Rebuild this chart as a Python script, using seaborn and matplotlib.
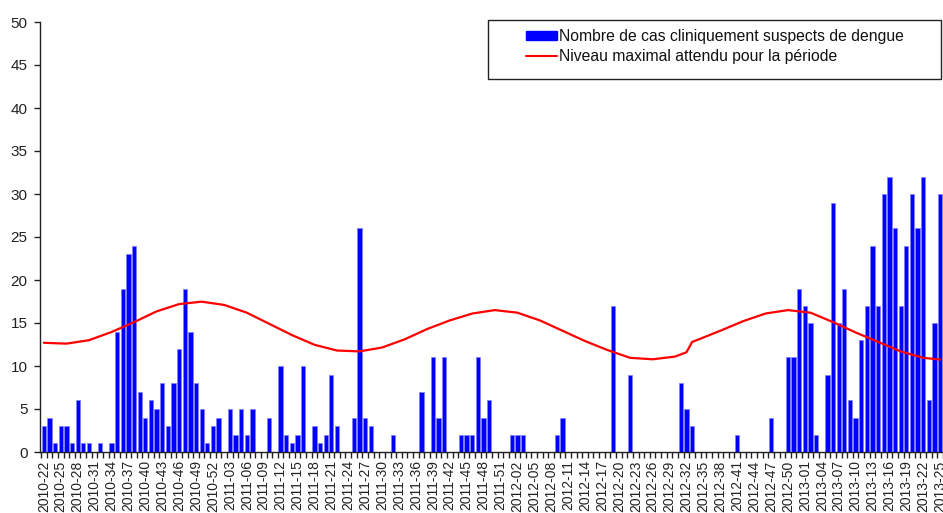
import numpy as np
import pandas as pd
import matplotlib
matplotlib.use("Agg")
import matplotlib.pyplot as plt
from matplotlib.patches import Patch, Rectangle
from matplotlib.lines import Line2D
import seaborn as sns

# ---- categories (ISO weeks 2010-22 .. 2013-25) ----
weeks = ([f"2010-{w:02d}" for w in range(22, 53)] +
         [f"2011-{w:02d}" for w in range(1, 53)] +
         [f"2012-{w:02d}" for w in range(1, 53)] +
         [f"2013-{w:02d}" for w in range(1, 26)])

# ---- weekly number of clinically suspected dengue cases ----
cases_2010 = [3, 4, 1, 3, 3, 1, 6, 1, 1, 0, 1, 0, 1, 14, 19, 23, 24, 7, 4, 6,
              5, 8, 3, 8, 12, 19, 14, 8, 5, 1, 3]
cases_2011 = [4, 0, 5, 2, 5, 2, 5, 0, 0, 4, 0, 10, 2, 1, 2, 10, 0, 3, 1, 2,
              9, 3, 0, 0, 4, 26, 4, 3, 0, 0, 0, 2, 0, 0, 0, 0, 7, 0, 11, 4,
              11, 0, 0, 2, 2, 2, 11, 4, 6, 0, 0, 0]
cases_2012 = [2, 2, 2, 0, 0, 0, 0, 0, 2, 4, 0, 0, 0, 0, 0, 0, 0, 0, 17, 0,
              0, 9, 0, 0, 0, 0, 0, 0, 0, 0, 8, 5, 3, 0, 0, 0, 0, 0, 0, 0,
              2, 0, 0, 0, 0, 0, 4, 0, 0, 11, 11, 19]
cases_2013 = [17, 15, 2, 0, 9, 29, 15, 19, 6, 4, 13, 17, 24, 17, 30, 32, 26,
              17, 24, 30, 26, 32, 6, 15, 30]
cases = cases_2010 + cases_2011 + cases_2012 + cases_2013

# ---- maximum expected level (read at selected weeks) ----
max_weeks = ["2010-22", "2010-26", "2010-30", "2010-34", "2010-38", "2010-42",
             "2010-46", "2010-50", "2011-02", "2011-06", "2011-10", "2011-14",
             "2011-18", "2011-22", "2011-26", "2011-30", "2011-34", "2011-38",
             "2011-42", "2011-46", "2011-50", "2012-02", "2012-06", "2012-10",
             "2012-14", "2012-18", "2012-22", "2012-26", "2012-30", "2012-31",
             "2012-32", "2012-33", "2012-34", "2012-38", "2012-42", "2012-46",
             "2012-50", "2013-02", "2013-06", "2013-10", "2013-14", "2013-18",
             "2013-22", "2013-25"]
max_level = [12.7, 12.6, 13.0, 13.95, 15.1, 16.35, 17.2, 17.48, 17.1, 16.2,
             14.9, 13.6, 12.47, 11.8, 11.7, 12.15, 13.1, 14.3, 15.3, 16.1,
             16.5, 16.2, 15.3, 14.1, 12.9, 11.85, 10.95, 10.78, 11.1, 11.35,
             11.6, 12.8, 13.05, 14.1, 15.2, 16.1, 16.5, 16.2, 15.1, 13.9,
             12.8, 11.7, 10.95, 10.75]

legend_labels = ["Nombre de cas cliniquement suspects de dengue",
                 "Niveau maximal attendu pour la période"]

sns.set_style("white")
plt.rcParams["font.family"] = ["Liberation Sans", "DejaVu Sans"]

W, H = 943, 513
fig = plt.figure(figsize=(W / 100, H / 100), dpi=100)
ax = fig.add_axes([40 / W, 61 / H, 903 / W, 430 / H])

df = pd.DataFrame({"week": weeks, "cases": cases})
sns.barplot(data=df, x="week", y="cases", order=weeks, color="#0000FF",
            saturation=1, width=0.76, errorbar=None, edgecolor="#8080ff",
            linewidth=0.5, ax=ax)

pos = {w: i for i, w in enumerate(weeks)}
line_df = pd.DataFrame({"x": [pos[w] for w in max_weeks], "y": max_level})
sns.lineplot(data=line_df, x="x", y="y", color="#FF0000", linewidth=1.6,
             ax=ax, sort=False)

ax.set_xlim(-0.68, 158.83)
ax.set_ylim(0, 50)
ax.set_xlabel("")
ax.set_ylabel("")

# y axis
ax.set_yticks(np.arange(0, 51, 5))
ax.tick_params(axis="y", which="major", direction="out", length=4, width=1,
               color="#222222", pad=5, labelsize=11, labelcolor="#222222",
               left=True)

# x axis: labels every 3 weeks, tick marks at every category boundary
ax.set_xticks(np.arange(0, len(weeks), 3))
ax.set_xticklabels(weeks[::3], rotation=90)
ax.set_xticks(np.arange(-0.5, len(weeks), 1), minor=True)
ax.tick_params(axis="x", which="major", length=0, pad=6, labelsize=10,
               labelcolor="#222222")
ax.tick_params(axis="x", which="minor", direction="out", length=4, width=1,
               color="#222222", bottom=True)

for s in ["top", "right"]:
    ax.spines[s].set_visible(False)
for s in ["left", "bottom"]:
    ax.spines[s].set_color("#222222")
    ax.spines[s].set_linewidth(1)
ax.grid(False)

# legend box
fig.patches.append(Rectangle((488 / W, 1 - 79 / H), (941 - 488) / W, 59 / H,
                             transform=fig.transFigure, facecolor="white",
                             edgecolor="#222222", linewidth=1, zorder=5))
handles = [Patch(facecolor="#0000FF", edgecolor="#0000FF"),
           Line2D([], [], color="#FF0000", linewidth=1.5)]
leg = fig.legend(handles, legend_labels, loc="upper left",
                 bbox_to_anchor=(526 / W, 1 - 29 / H), frameon=False,
                 fontsize=11.3, handlelength=1.95, handleheight=0.5,
                 handletextpad=0.15, labelspacing=0.32, borderpad=0,
                 borderaxespad=0)
leg.set_zorder(6)
for t in leg.get_texts():
    t.set_color("#111111")

fig.savefig("out.png", dpi=100)
